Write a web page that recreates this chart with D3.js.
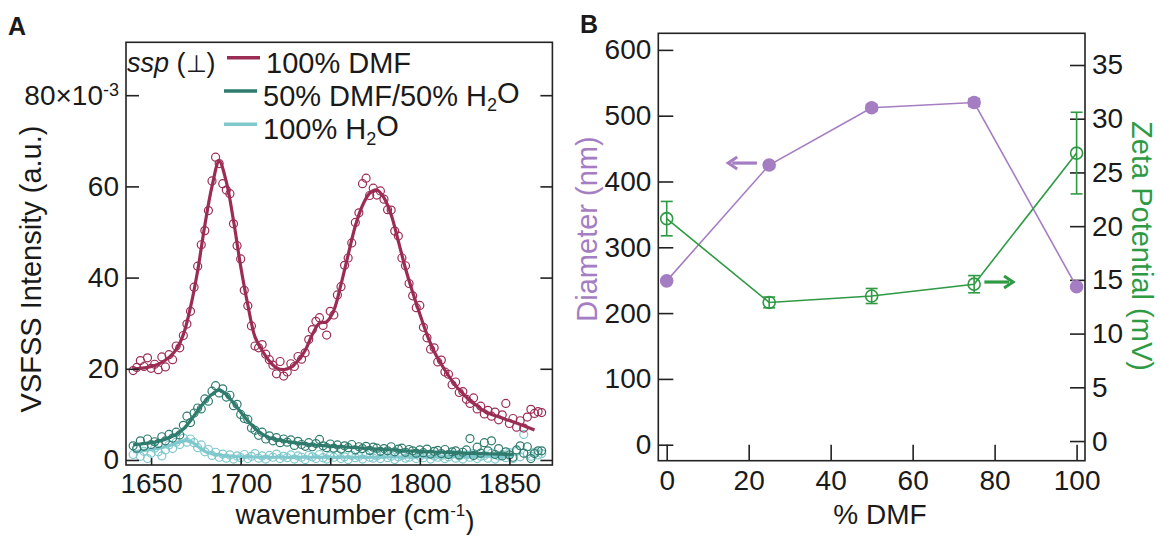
<!DOCTYPE html>
<html>
<head>
<meta charset="utf-8">
<script src="https://cdn.jsdelivr.net/npm/d3@7"></script>
<style>
  body { margin: 0; background: #fff; }
  text { font-family: "Liberation Sans", Arial, Helvetica, sans-serif; fill: #1a1a1a; }
</style>
</head>
<body>
<script>
// ---- panel A : VSFSS spectra ----
var fitStart = 1640, fitStep = 4;
var dmfFit = [20.0, 20.1, 20.3, 20.7, 21.4, 22.5, 24.2, 27.5, 33.5, 41.5,
              51.5, 60.0, 65.5, 61.0, 52.5, 42.5, 34.0, 27.0, 24.0, 21.7,
              20.2, 19.8, 20.3, 21.8, 24.0, 27.5, 30.0, 30.3, 32.8, 38.5,
              45.0, 51.3, 55.8, 58.5, 59.2, 57.5, 53.8, 48.0, 42.0, 36.8,
              32.0, 27.5, 23.8, 21.0, 18.5, 16.3, 14.6, 13.0, 11.9, 10.7,
              10.0, 9.5, 8.9, 8.4, 7.8, 7.2, 6.6];
var mixFit = [3.3, 3.5, 3.7, 3.9, 4.3, 4.9, 5.6, 6.8, 8.6, 10.8,
              12.8, 14.4, 15.3, 14.3, 12.5, 10.5, 8.6, 6.9, 5.7, 4.9,
              4.5, 4.2, 3.9, 3.7, 3.5, 3.3, 3.2, 3.1, 3.0, 2.9,
              2.8, 2.7, 2.6, 2.5, 2.4, 2.3, 2.2, 2.1, 2.0, 1.95,
              1.9, 1.8, 1.75, 1.7, 1.65, 1.6, 1.5, 1.45, 1.4, 1.4,
              1.35, 1.3, 1.3, 1.25];
var waterFit = [1.8, 2.0, 2.2, 2.4, 2.7, 3.1, 3.7, 4.2, 4.1, 3.0,
                1.9, 1.4, 1.1, 0.9, 0.8, 0.7, 0.7, 0.65, 0.6, 0.6,
                0.6, 0.6, 0.6, 0.6, 0.6, 0.6, 0.6, 0.6, 0.6, 0.6,
                0.6, 0.6, 0.6, 0.6, 0.6, 0.65, 0.65, 0.65, 0.65, 0.7,
                0.7, 0.7, 0.7, 0.7, 0.7, 0.75, 0.75, 0.75, 0.75, 0.8,
                0.8, 0.8, 0.8, 0.8];

var ptStart = 1640, ptStep = 2;
var dmfPts = [19.6, 20.3, 21.8, 20.5, 22.4, 20.1, 21.0, 19.8, 22.6, 20.4,
              23.1, 22.0, 25.0, 24.6, 27.3, 29.8, 32.6, 37.9, 42.5, 47.2,
              50.3, 54.7, 61.2, 66.4, 65.0, 60.6, 59.2, 58.4, 51.8, 47.0,
              44.1, 37.2, 33.8, 29.4, 25.0, 24.6, 25.3, 23.2, 22.0, 20.8,
              18.9, 21.6, 18.4, 19.3, 21.1, 20.5, 22.7, 22.1, 23.5, 26.4,
              28.6, 30.4, 31.2, 29.5, 27.4, 32.6, 31.8, 36.2, 38.0, 42.7,
              44.3, 47.6, 52.1, 54.2, 60.6, 61.8, 58.0, 59.6, 58.1, 59.0,
              57.2, 54.9, 54.8, 50.2, 49.1, 44.3, 42.6, 38.7, 36.0, 33.4,
              33.9, 29.1, 26.8, 24.3, 24.6, 21.5, 21.9, 19.3, 18.8, 16.5,
              17.1, 14.8, 15.0, 13.3, 12.4, 13.6, 11.2, 11.8, 10.1, 10.9,
              9.6, 10.5, 8.8, 9.9, 12.4, 8.0, 9.1, 7.2, 8.6, 7.0,
              9.4, 11.1, 10.2, 10.6, 10.4];
var mixPts = [3.1, 2.6, 4.2, 3.0, 4.6, 3.4, 4.0, 3.6, 5.1, 4.2,
              5.6, 4.8, 6.1, 5.5, 7.6, 9.6, 8.2, 10.3, 11.4, 11.2,
              13.4, 12.9, 15.1, 16.3, 14.7, 15.6, 13.8, 14.2, 11.9, 12.2,
              10.0, 9.1, 8.9, 7.0, 6.5, 5.4, 6.1, 4.6, 5.3, 4.2,
              4.9, 3.8, 4.6, 3.9, 4.4, 3.2, 4.1, 3.4, 3.0, 3.8,
              2.9, 3.6, 4.5, 3.1, 2.7, 3.5, 2.6, 3.3, 2.4, 3.1,
              2.7, 3.4, 2.2, 2.9, 2.5, 3.0, 2.1, 2.8, 2.6, 1.9,
              2.5, 2.0, 2.9, 1.8, 2.4, 2.6, 1.7, 2.3, 2.0, 1.5,
              2.2, 1.6, 2.4, 1.3, 1.9, 2.1, 1.4, 2.3, 1.2, 1.8,
              2.0, 1.1, 1.7, 2.2, 4.7, 1.0, 2.8, 1.5, 3.8, 2.0,
              4.2, 1.2, 2.5, 0.9, 1.8, 1.1, 0.6, 2.2, 3.1, 1.5,
              2.9, 0.3, 1.4, 2.0, 2.0];
var waterPts = [1.2, 2.4, 0.8, 1.9, 0.3, 1.5, 2.6, 1.8, 0.9, 2.2,
                3.3, 2.5, 3.9, 3.4, 4.8, 3.9, 4.6, 3.8, 2.7, 3.3,
                1.8, 2.3, 1.0, 1.7, 0.6, 1.3, 0.4, 1.1, 0.2, 0.9,
                0.5, 1.2, 0.3, 0.8, 1.4, 0.4, 0.9, 0.2, 1.0, 0.6,
                1.3, 0.3, 0.8, 0.5, 1.1, 0.2, 0.9, 0.6, 0.1, 1.0,
                0.7, 0.3, 1.2, 0.5, 0.2, 0.9, 0.6, 1.1, 0.3, 0.7,
                0.1, 1.0, 0.5, 0.8, 0.2, 1.1, 0.6, 0.4, 0.9, 0.3,
                1.2, 0.5, 0.8, 0.1, 0.7, 1.0, 0.4, 0.6, 1.1, 0.3,
                0.8, 0.5, 1.2, 0.2, 0.9, 0.6, 1.0, 0.3, 0.7, 1.3,
                0.4, 0.9, 0.2, 1.1, 0.6, 1.4, 0.3, 0.8, 1.0, 0.4,
                1.5, 0.2, 0.9, 1.2, 0.5, 1.6, 0.3, 1.9, 0.7, 5.6,
                1.3, 0.8, 1.7, 1.1, 1.4];

var waveTicks = [1650, 1700, 1750, 1800, 1850];
var intensityTicks = [0, 20, 40, 60, 80];
var seriesNames = ['100% DMF', '50% DMF/50% H2O', '100% H2O'];
var seriesColors = ['#9b2d55', '#2f7b6d', '#7fc8cd'];

// ---- panel B : size and zeta potential ----
var dmfPercent = [0, 25, 50, 75, 100];
var diameter = [249, 425, 512, 520, 240];
var diameterErr = [3, 4, 5, 6, 3];
var zeta = [20.7, 12.9, 13.5, 14.6, 26.8];
var zetaErr = [1.6, 0.5, 0.7, 0.8, 3.8];
var pctTicks = [0, 20, 40, 60, 80, 100];
var diamTicks = [0, 100, 200, 300, 400, 500, 600];
var zetaTicks = [0, 5, 10, 15, 20, 25, 30, 35];
var diamArrow = {from: 22, to: 15, y: 428};
var zetaArrow = {from: 77.5, to: 84.5, y: 14.8};

var purple = '#a47dc2';
var green = '#2f9a44';
var tickFont = '28px';
var titleFont = '29px';

var svg = d3.select('body').append('svg')
    .attr('width', 1160)
    .attr('height', 535);

function styleAxis(g) {
    g.select('.domain').remove();
    g.attr('font-family', null).attr('font-size', tickFont);
    g.selectAll('.tick line').attr('stroke', '#222').attr('stroke-width', 1.6);
    g.selectAll('.tick text').attr('fill', '#1a1a1a');
}

// ================= panel A =================
var xA = d3.scaleLinear().domain([1636, 1874]).range([126, 552.4]);
var yA = d3.scaleLinear().domain([-1.1, 91.6]).range([465, 42.3]);

var gA = svg.append('g');

var fitSets = [dmfFit, mixFit, waterFit];
var ptSets = [dmfPts, mixPts, waterPts];

// water first, DMF on top
[2, 1, 0].forEach(function (k) {
    var pts = ptSets[k].map(function (v, i) { return {x: ptStart + i * ptStep, y: v}; });
    gA.append('g').selectAll('circle')
        .data(pts)
        .enter()
        .append('circle')
        .attr('cx', function (d) { return xA(d.x); })
        .attr('cy', function (d) { return yA(d.y); })
        .attr('r', 4)
        .attr('fill', 'none')
        .attr('stroke', seriesColors[k])
        .attr('stroke-width', 1.2);

    var fit = fitSets[k].map(function (v, i) { return {x: fitStart + i * fitStep, y: v}; });
    gA.append('path')
        .datum(fit)
        .attr('fill', 'none')
        .attr('stroke', seriesColors[k])
        .attr('stroke-width', 3.2)
        .attr('d', d3.line()
            .x(function (d) { return xA(d.x); })
            .y(function (d) { return yA(d.y); })
            .curve(d3.curveCatmullRom));
});

var axA1 = gA.append('g')
    .attr('transform', 'translate(0,465)')
    .call(d3.axisBottom(xA).tickValues(waveTicks).tickFormat(d3.format('d'))
        .tickSize(-7).tickSizeOuter(0).tickPadding(8.5));
styleAxis(axA1);

var axA2 = gA.append('g')
    .attr('transform', 'translate(126,0)')
    .call(d3.axisLeft(yA).tickValues(intensityTicks).tickSize(-13).tickSizeOuter(0).tickPadding(7));
styleAxis(axA2);
axA2.selectAll('.tick text').filter(function (d) { return d === 80; })
    .text('80×10')
    .append('tspan')
    .attr('dy', '-0.5em')
    .attr('font-size', '18px')
    .text('-3');

var axA3 = gA.append('g')
    .attr('transform', 'translate(552.4,0)')
    .call(d3.axisRight(yA).tickValues(intensityTicks).tickSize(-12).tickSizeOuter(0).tickFormat(''));
styleAxis(axA3);

gA.append('rect')
    .attr('x', 126).attr('y', 42.3)
    .attr('width', 552.4 - 126).attr('height', 465 - 42.3)
    .attr('fill', 'none').attr('stroke', '#222').attr('stroke-width', 1.6);

// legend
var leg = gA.append('g');
var ssp = leg.append('text').attr('x', 127).attr('y', 72).attr('font-size', '27px');
ssp.append('tspan').attr('font-style', 'italic').text('ssp');
ssp.append('tspan').text(' (');
ssp.append('tspan').attr('font-size', '24px').text('⊥');
ssp.append('tspan').text(')');

seriesNames.forEach(function (name, i) {
    var base = 72.7 + i * 33.3;
    leg.append('line')
        .attr('x1', i === 0 ? 227 : 224).attr('x2', i === 0 ? 260 : 257)
        .attr('y1', base - 15).attr('y2', base - 15)
        .attr('stroke', seriesColors[i]).attr('stroke-width', 3.5);
    var t = leg.append('text').attr('x', i === 0 ? 266 : 263).attr('y', base).attr('font-size', titleFont);
    if (name.indexOf('H2O') >= 0) {
        t.append('tspan').text(name.replace('H2O', 'H'));
        t.append('tspan').attr('dy', '0.3em').attr('font-size', '18px').text('2');
        t.append('tspan').attr('dy', '-0.3em').text('O');
    } else {
        t.text(name);
    }
});

// titles
var xtA = gA.append('text')
    .attr('x', 355).attr('y', 524)
    .attr('text-anchor', 'middle')
    .attr('font-size', '28px');
xtA.append('tspan').text('wavenumber (cm');
xtA.append('tspan').attr('dy', '-0.5em').attr('font-size', '17px').text('-1');
xtA.append('tspan').attr('dy', '0.5em').text(')');

gA.append('text')
    .attr('transform', 'translate(40.5,269) rotate(-90)')
    .attr('text-anchor', 'middle')
    .attr('font-size', titleFont)
    .text('VSFSS Intensity (a.u.)');

svg.append('text').attr('x', 8).attr('y', 35)
    .attr('font-size', '25px').attr('font-weight', 'bold').text('A');

// ================= panel B =================
var xB = d3.scaleLinear().domain([-2.05, 102.05]).range([658.3, 1085]);
var yL = d3.scaleLinear().domain([-24.3, 625.2]).range([460.7, 33.3]);
var yR = d3.scaleLinear().domain([-1.83, 37.95]).range([460.7, 33.3]);

var gB = svg.append('g');

var axB1 = gB.append('g')
    .attr('transform', 'translate(0,460.7)')
    .call(d3.axisBottom(xB).tickValues(pctTicks).tickSize(-16).tickSizeOuter(0).tickPadding(9.5));
styleAxis(axB1);

var axB2 = gB.append('g')
    .attr('transform', 'translate(658.3,0)')
    .call(d3.axisLeft(yL).tickValues(diamTicks).tickSize(-15).tickSizeOuter(0).tickPadding(7));
styleAxis(axB2);

var axB3 = gB.append('g')
    .attr('transform', 'translate(1085,0)')
    .call(d3.axisRight(yR).tickValues(zetaTicks).tickSize(-15).tickSizeOuter(0).tickPadding(7));
styleAxis(axB3);

gB.append('rect')
    .attr('x', 658.3).attr('y', 33.3)
    .attr('width', 1085 - 658.3).attr('height', 460.7 - 33.3)
    .attr('fill', 'none').attr('stroke', '#222').attr('stroke-width', 1.6);

var diamData = dmfPercent.map(function (p, i) { return {x: p, y: diameter[i], e: diameterErr[i]}; });
var zetaData = dmfPercent.map(function (p, i) { return {x: p, y: zeta[i], e: zetaErr[i]}; });

function drawSeries(data, yScale, color, filled) {
    var g = gB.append('g');
    g.append('path')
        .datum(data)
        .attr('fill', 'none')
        .attr('stroke', color)
        .attr('stroke-width', 1.6)
        .attr('d', d3.line()
            .x(function (d) { return xB(d.x); })
            .y(function (d) { return yScale(d.y); }));
    var eb = g.selectAll('.err').data(data).enter().append('g').attr('class', 'err')
        .attr('stroke', color).attr('stroke-width', 1.6);
    eb.append('line')
        .attr('x1', function (d) { return xB(d.x); })
        .attr('x2', function (d) { return xB(d.x); })
        .attr('y1', function (d) { return yScale(d.y - d.e); })
        .attr('y2', function (d) { return yScale(d.y + d.e); });
    [-1, 1].forEach(function (s) {
        eb.append('line')
            .attr('x1', function (d) { return xB(d.x) - 6; })
            .attr('x2', function (d) { return xB(d.x) + 6; })
            .attr('y1', function (d) { return yScale(d.y + s * d.e); })
            .attr('y2', function (d) { return yScale(d.y + s * d.e); });
    });
    g.selectAll('circle').data(data).enter().append('circle')
        .attr('cx', function (d) { return xB(d.x); })
        .attr('cy', function (d) { return yScale(d.y); })
        .attr('r', 6)
        .attr('fill', filled ? color : 'none')
        .attr('stroke', color)
        .attr('stroke-width', 1.6);
}
drawSeries(diamData, yL, purple, true);
drawSeries(zetaData, yR, green, false);

function arrow(a, yScale, color) {
    var x0 = xB(a.from), x1 = xB(a.to), y = yScale(a.y);
    var dir = x1 > x0 ? 1 : -1;
    gB.append('line')
        .attr('x1', x0).attr('x2', x1 - dir * 4)
        .attr('y1', y).attr('y2', y)
        .attr('stroke', color).attr('stroke-width', 3.2);
    gB.append('path')
        .attr('d', 'M' + (x1 - dir * 9) + ',' + (y - 6) + 'L' + x1 + ',' + y + 'L' + (x1 - dir * 9) + ',' + (y + 6))
        .attr('fill', 'none')
        .attr('stroke', color)
        .attr('stroke-width', 3);
}
arrow(diamArrow, yL, purple);
arrow(zetaArrow, yR, green);

gB.append('text')
    .attr('x', 880).attr('y', 524)
    .attr('text-anchor', 'middle')
    .attr('font-size', '28px')
    .text('% DMF');

gB.append('text')
    .attr('transform', 'translate(597,229) rotate(-90)')
    .attr('text-anchor', 'middle')
    .attr('font-size', titleFont)
    .style('fill', purple)
    .text('Diameter (nm)');

gB.append('text')
    .attr('transform', 'translate(1132,246) rotate(90)')
    .attr('text-anchor', 'middle')
    .attr('font-size', titleFont)
    .style('fill', green)
    .text('Zeta Potential (mV)');

svg.append('text').attr('x', 580).attr('y', 33)
    .attr('font-size', '25px').attr('font-weight', 'bold').text('B');
</script>
</body>
</html>
